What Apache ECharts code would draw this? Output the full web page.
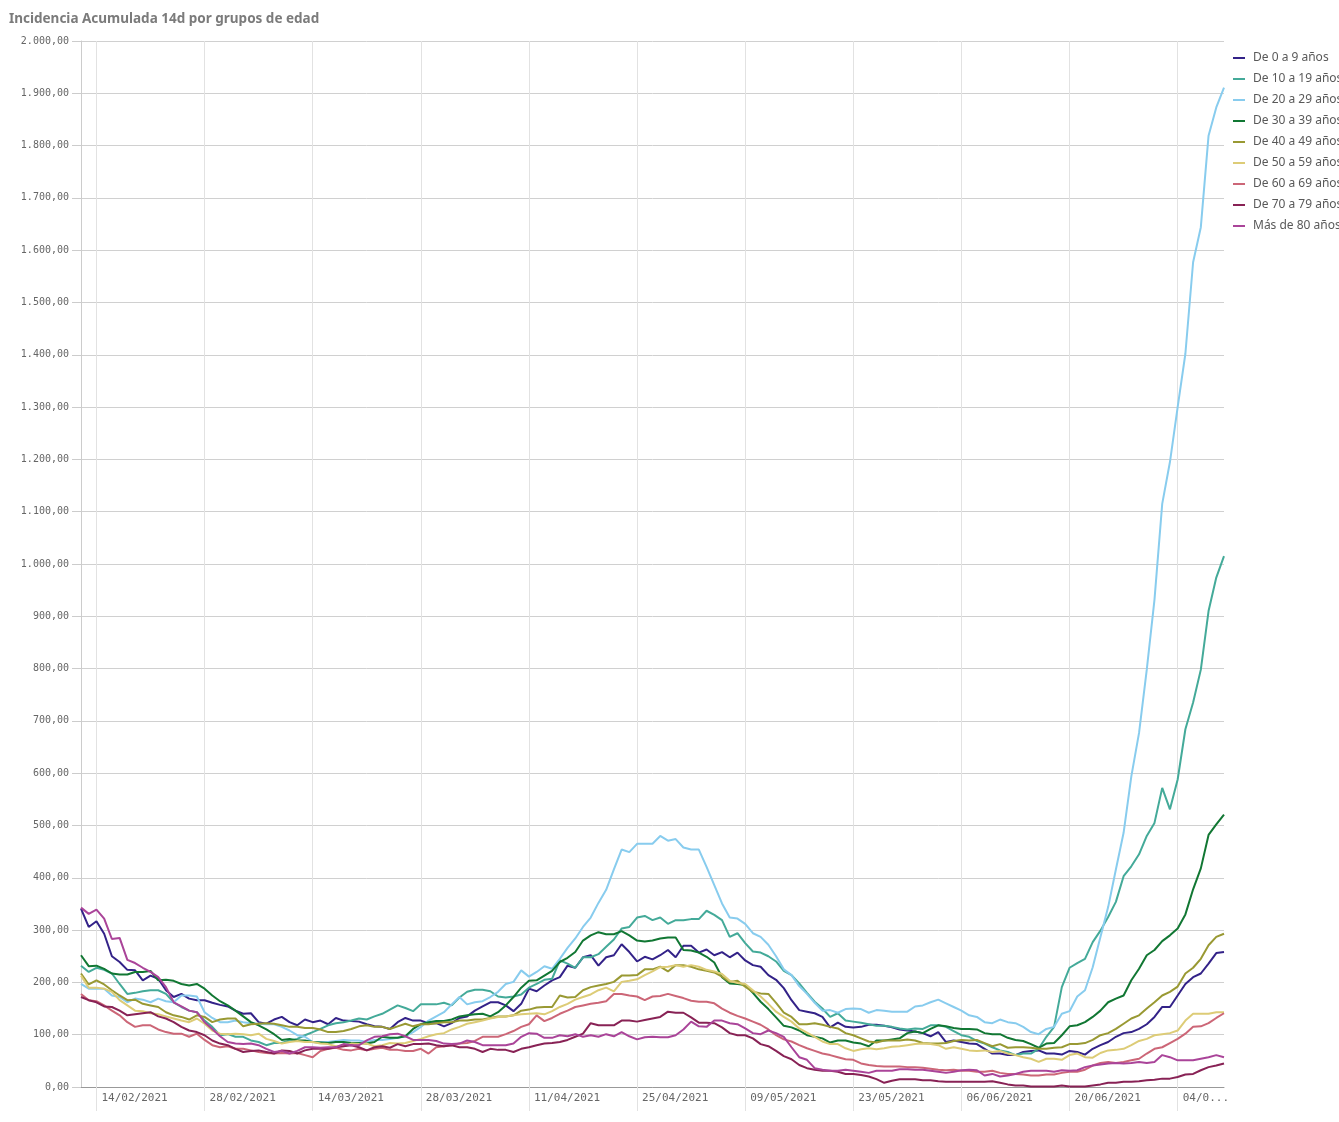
<!DOCTYPE html>
<html>
<head>
<meta charset="utf-8">
<script src="https://cdn.jsdelivr.net/npm/echarts@6/dist/echarts.min.js"></script>
<style>
  html, body { margin: 0; padding: 0; background: #fff; }
  #chart { width: 1339px; height: 1122px; }
</style>
</head>
<body>
<div id="chart"></div>
<script>
// dias desde 12/02/2021 hasta 10/07/2021
const startDate = [2021, 2, 12];
const dayCount = 149;
const tickLabels = ["14/02/2021", "28/02/2021", "14/03/2021", "28/03/2021", "11/04/2021",
  "25/04/2021", "09/05/2021", "23/05/2021", "06/06/2021", "20/06/2021", "04/07/2021"];

const seriesNames = ["De 0 a 9 años", "De 10 a 19 años", "De 20 a 29 años", "De 30 a 39 años",
  "De 40 a 49 años", "De 50 a 59 años", "De 60 a 69 años", "De 70 a 79 años", "Más de 80 años"];
const colors = ["#332288", "#44AA99", "#88CCEE", "#117733", "#999933", "#DDCC77", "#CC6677", "#882255", "#AA4499"];

const edad0 = [341,306,317,293,250,239,224,223,204,213,207,185,172,178,169,166,166,161,157,154,146,140,141,124,121,129,134,124,118,129,124,127,120,132,127,126,125,120,
  116,115,111,124,132,127,127,122,122,116,122,132,135,146,154,162,162,156,145,159,188,183,194,204,210,232,228,248,252,232,248,252,273,258,
  240,249,244,252,262,248,270,270,257,263,252,258,248,257,242,233,230,214,205,189,166,147,144,141,134,114,123,115,114,115,119,119,117,114,110,108,106,
  103,97,105,86,89,86,83,82,73,64,64,61,61,67,69,70,64,64,62,69,67,62,73,80,86,96,103,105,111,120,134,153,153,175,197,210,217,236,256,258];
const edad10 = [232,220,228,224,217,197,178,180,183,185,185,178,162,153,146,143,127,115,99,101,96,96,89,86,80,84,84,89,92,99,105,111,118,122,124,127,131,129,
  135,140,148,156,151,145,158,158,158,161,156,171,182,186,186,183,173,171,173,177,190,197,205,207,242,236,228,248,248,254,268,282,303,306,
  324,327,319,324,312,319,319,321,321,337,329,319,287,294,275,259,257,250,240,222,214,198,180,163,150,134,141,127,125,123,120,117,117,115,112,110,112,
  111,118,118,115,107,99,96,88,83,76,70,67,61,64,64,73,96,115,191,228,237,245,277,299,325,354,403,422,445,480,505,572,531,588,684,735,798,910,974,1015];
const edad20 = [197,188,188,188,175,172,162,169,167,162,169,164,162,175,175,173,143,132,124,124,127,124,122,121,120,120,115,108,99,96,86,86,86,88,90,89,89,86,
  90,90,92,94,97,105,115,127,135,143,158,172,158,162,164,172,182,197,201,223,211,220,231,226,245,266,284,306,324,352,377,416,454,449,
  465,465,465,480,471,474,458,454,454,421,386,351,324,322,312,294,287,272,250,225,214,193,178,161,146,147,142,149,150,149,142,147,146,144,144,144,154,
  156,162,167,160,153,146,137,134,124,122,129,124,122,115,105,101,111,115,140,145,173,185,229,287,344,416,486,594,677,798,932,1115,1195,1300,1402,1577,1644,1819,1873,1911];
const edad30 = [252,231,232,226,217,215,215,220,220,222,204,205,203,197,194,197,188,175,164,156,146,135,124,118,110,101,90,92,89,89,86,85,84,86,86,84,84,83,
  86,96,94,94,97,111,120,124,126,126,129,135,137,139,140,135,143,156,172,190,203,204,213,222,239,247,258,280,290,296,292,292,298,290,
  280,278,280,284,286,286,262,261,257,249,238,210,198,197,195,180,163,149,133,117,114,108,99,96,93,85,89,89,85,83,78,89,89,91,93,103,106,
  103,111,118,116,113,111,111,110,103,101,101,94,90,88,82,75,83,84,99,116,118,124,134,146,162,169,175,204,226,252,262,279,290,303,330,378,418,482,502,521];
const edad40 = [217,196,204,196,185,175,166,167,159,156,153,143,137,134,129,137,134,124,129,131,131,116,120,121,122,121,118,115,115,113,113,110,105,105,107,111,116,118,
  115,115,111,116,121,116,120,120,122,124,124,127,127,129,129,132,135,135,137,146,148,152,153,153,175,171,172,185,191,194,197,201,213,213,
  214,225,225,230,221,233,233,230,225,222,219,211,201,203,192,182,179,178,161,142,134,120,120,122,119,115,112,103,99,93,87,85,89,89,89,91,89,
  84,83,83,84,88,90,89,90,84,78,82,75,76,76,75,73,73,75,76,82,82,84,90,99,103,111,121,131,137,150,162,175,182,192,217,228,245,271,287,293];
const edad50 = [213,190,190,188,182,166,156,146,145,141,139,135,131,127,124,131,121,108,102,101,102,101,99,102,92,88,83,86,88,86,86,83,82,78,78,83,82,83,
  78,80,84,83,84,88,92,97,101,103,110,115,121,124,127,131,134,135,137,139,140,141,139,145,153,159,167,172,177,185,190,183,201,203,
  206,214,221,229,230,233,230,233,230,224,221,216,203,199,197,185,173,159,144,134,125,112,104,96,87,82,82,74,69,72,74,72,74,77,78,80,82,
  83,82,80,73,76,73,70,69,70,67,69,64,61,57,54,48,54,54,52,61,64,57,56,65,70,71,73,80,88,92,99,101,103,108,127,140,140,140,143,143];
const edad60 = [178,166,164,156,146,137,124,115,118,118,110,105,102,102,96,102,90,80,76,78,73,73,70,67,65,64,65,64,65,61,57,69,73,75,71,70,73,70,
  73,75,71,71,69,69,73,64,76,78,80,83,84,88,96,96,96,101,107,115,120,137,126,132,140,146,153,156,159,161,164,178,178,175,
  173,166,173,174,178,174,170,165,163,163,160,150,142,136,131,125,119,110,99,91,87,80,74,69,64,61,57,53,52,45,42,40,39,39,39,38,38,
  37,35,33,32,33,31,31,29,29,31,27,25,25,24,22,22,24,24,27,29,29,33,41,46,48,46,48,51,54,64,73,76,84,92,102,115,116,122,132,141];
const edad70 = [172,166,162,154,153,146,137,139,141,143,135,131,124,115,108,105,99,89,83,80,73,67,69,70,67,64,70,69,64,70,73,73,73,76,78,80,76,70,
  76,78,75,82,78,82,82,83,80,78,80,76,76,73,67,73,71,71,67,73,76,80,83,84,86,90,96,102,122,118,118,118,127,127,
  125,128,131,134,144,142,142,133,123,123,122,114,103,99,99,93,82,78,69,59,53,42,36,33,31,31,29,25,25,23,20,15,8,12,15,15,15,
  13,13,11,10,10,10,10,10,10,11,8,5,3,3,1,1,1,1,3,1,1,1,3,5,8,8,10,10,11,13,14,16,16,19,24,25,32,38,41,45];
const edad80 = [343,331,339,322,283,285,243,237,228,220,210,191,162,154,146,143,124,111,97,86,83,82,83,80,73,67,69,64,69,76,76,75,76,76,82,80,80,89,
  96,97,101,102,97,90,90,90,88,83,82,83,89,86,80,80,80,80,83,96,103,102,94,94,99,97,101,96,99,96,101,97,105,97,
  91,95,96,95,95,99,110,125,116,115,127,127,122,120,112,103,101,108,103,96,76,57,52,36,33,31,31,33,31,29,27,31,31,31,34,34,33,
  33,31,29,27,29,32,33,32,22,25,20,22,25,29,31,31,31,29,32,31,32,38,41,43,45,46,45,46,48,46,48,61,57,51,51,51,54,57,61,57];

const allData = [edad0, edad10, edad20, edad30, edad40, edad50, edad60, edad70, edad80];

function buildDates() {
  let out = [];
  for (let i = 0; i < dayCount; i++) {
    let d = new Date(Date.UTC(startDate[0], startDate[1] - 1, startDate[2] + i));
    let dd = String(d.getUTCDate()).padStart(2, "0");
    let mm = String(d.getUTCMonth() + 1).padStart(2, "0");
    out.push(dd + "/" + mm + "/" + d.getUTCFullYear());
  }
  return out;
}
const dates = buildDates();

function fmtNum(v) {
  let parts = v.toFixed(2).split(".");
  let ent = parts[0].replace(/\B(?=(\d{3})+(?!\d))/g, ".");
  return ent + "," + parts[1];
}
function isTick(idx, val) {
  return tickLabels.indexOf(dates[idx]) >= 0;
}

let chartInst = echarts.init(document.getElementById("chart"));
let option = {
  animation: false,
  color: colors,
  title: {
    text: "Incidencia Acumulada 14d por grupos de edad",
    left: 4,
    top: 7,
    textStyle: { fontFamily: "Noto Sans", fontWeight: "bold", fontSize: 13.5, color: "#7b7b7b" },
  },
  legend: {
    orient: "vertical",
    left: 1228,
    top: 46,
    icon: "rect",
    itemWidth: 12,
    itemHeight: 2,
    itemGap: 7,
    textStyle: { fontFamily: "Noto Sans", fontSize: 12, color: "#595959", lineHeight: 14, padding: [0, 0, 0, 3] },
    data: seriesNames,
  },
  grid: { left: 81, right: 115, top: 41, bottom: 35 },
  xAxis: {
    type: "category",
    data: dates,
    boundaryGap: false,
    axisLine: { lineStyle: { color: "#999999" } },
    axisTick: { show: true, interval: isTick, length: 24, lineStyle: { color: "#e2e2e2" } },
    splitLine: { show: true, interval: isTick, lineStyle: { color: "#e2e2e2" } },
    axisLabel: {
      interval: isTick,
      align: "left",
      margin: 6,
      padding: [0, 0, 0, 5],
      fontFamily: "DejaVu Sans Mono",
      fontSize: 11,
      color: "#666666",
      formatter: (v) => (v === "04/07/2021" ? "04/0..." : v),
    },
  },
  yAxis: {
    type: "value",
    min: 0,
    max: 2000,
    interval: 100,
    axisLine: { show: true, lineStyle: { color: "#cccccc" } },
    axisTick: { show: true, length: 9, lineStyle: { color: "#cccccc" } },
    splitLine: { lineStyle: { color: "#d0d0d0" } },
    axisLabel: {
      margin: 12,
      fontFamily: "DejaVu Sans Mono",
      fontSize: 10,
      color: "#666666",
      formatter: fmtNum,
    },
  },
  series: [],
};
seriesNames.forEach((name, k) => {
  option.series.push({
    name: name,
    type: "line",
    data: allData[k],
    symbol: "none",
    lineStyle: { width: 2, color: colors[k] },
    itemStyle: { color: colors[k] },
  });
});
chartInst.setOption(option);
</script>
</body>
</html>
